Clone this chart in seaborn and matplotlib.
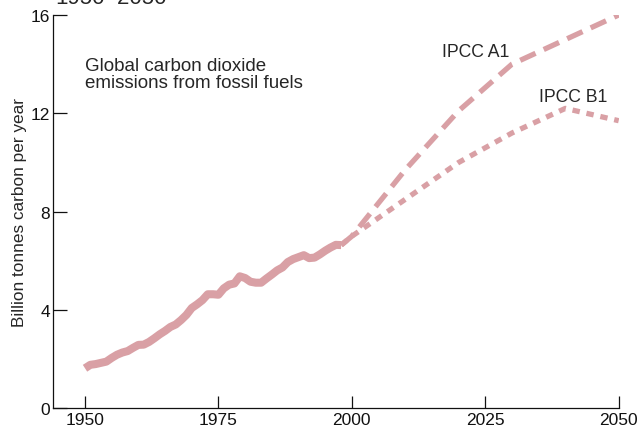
import matplotlib
matplotlib.use('Agg')
import matplotlib.pyplot as plt
import seaborn as sns
import numpy as np

# ── data ──────────────────────────────────────────────────
hist_years = list(range(1950, 1999))
hist_vals = [1.63, 1.77, 1.80, 1.85, 1.90, 2.05, 2.18, 2.27, 2.33, 2.46,
             2.58, 2.59, 2.70, 2.85, 3.01, 3.15, 3.31, 3.41, 3.59, 3.80,
             4.08, 4.23, 4.40, 4.64, 4.64, 4.62, 4.88, 5.03, 5.08, 5.37,
             5.30, 5.15, 5.11, 5.11, 5.28, 5.44, 5.61, 5.73, 5.95, 6.07,
             6.15, 6.23, 6.11, 6.13, 6.26, 6.41, 6.54, 6.65, 6.64]

proj_years = [1998, 2000, 2010, 2020, 2030, 2040, 2050]
a1_vals = [6.64, 7.0, 9.7, 12.1, 14.0, 15.0, 16.0]
b1_vals = [6.64, 7.0, 8.5, 10.0, 11.2, 12.2, 11.7]

x_ticks = [1950, 1975, 2000, 2025, 2050]
y_ticks = [0, 4, 8, 12, 16]

color = '#d9a0a5'

sns.set_style('ticks')
plt.rcParams['font.family'] = ['Liberation Sans', 'DejaVu Sans']

fig = plt.figure(figsize=(6.43, 4.31), dpi=100)
ax = fig.add_axes([0.0824, 0.0503, 0.8798, 0.9126])

sns.lineplot(x=hist_years, y=hist_vals, ax=ax, color=color, linewidth=5.8,
             solid_capstyle='butt')
sns.lineplot(x=proj_years, y=a1_vals, ax=ax, color=color, linewidth=3.8,
             linestyle=(0, (3.2, 1.7)))
sns.lineplot(x=proj_years, y=b1_vals, ax=ax, color=color, linewidth=3.8,
             linestyle=(0, (1.4, 1.3)))

ax.set_xlim(1944, 2050)
ax.set_ylim(0, 16)
ax.set_xticks(x_ticks)
ax.set_yticks(y_ticks)
ax.tick_params(axis='x', direction='in', length=8.5, width=0.9,
               labelsize=12.5, pad=3, colors='#111111')
ax.tick_params(axis='y', direction='in', length=10, width=0.9,
               labelsize=12.5, pad=2, colors='#111111')
for s in ['left', 'bottom']:
    ax.spines[s].set_linewidth(0.9)
    ax.spines[s].set_color('#111111')
sns.despine(ax=ax)

ax.set_xlabel('')
ax.set_ylabel('Billion tonnes carbon per year', fontsize=12.4, labelpad=3)

ax.text(1950, 14.3, 'Global carbon dioxide\nemissions from fossil fuels',
        fontsize=13.5, va='top', ha='left', linespacing=1.0)
ax.text(2016.9, 14.33, 'IPCC A1', fontsize=12.7, va='baseline', ha='left')
ax.text(2035.1, 12.5, 'IPCC B1', fontsize=12.7, va='baseline', ha='left')

# title, cut off at the top edge in the reference
fig.text(55 / 643, 1 - 3.5 / 431, '1950\u20132050', fontsize=16,
         va='baseline', ha='left')

plt.savefig('out.png', dpi=100)
print("saved out.png")
